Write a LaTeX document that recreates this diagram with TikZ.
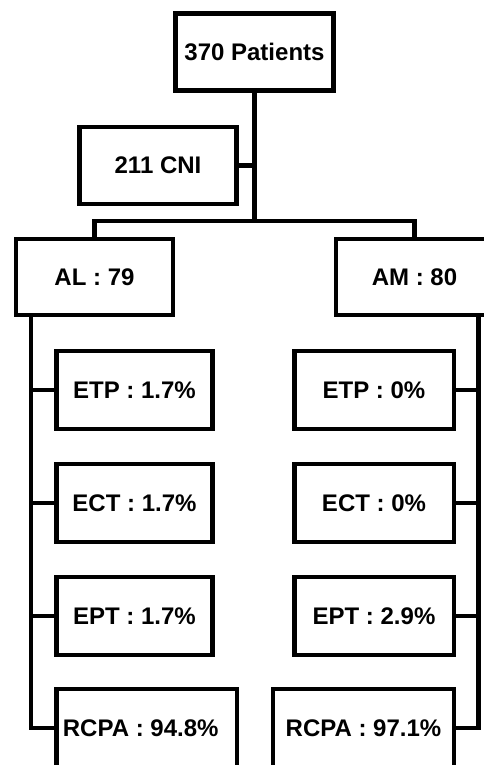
\documentclass[tikz,border=0pt]{standalone}
\usepackage{fontspec}
\setmainfont{Liberation Sans}
\begin{document}
\begin{tikzpicture}[x=1pt,y=-1pt,
  box/.style={draw=black,line width=4.5pt,inner sep=0pt,align=center,
    font=\bfseries\fontsize{24}{28}\selectfont},
  link/.style={draw=black,line width=4.5pt}]
\clip (0,0) rectangle (484,765);
\fill[white] (0,0) rectangle (484,765);
% top
\node[box,minimum width=158pt,minimum height=77pt] (pat) at (254.5,52) {370 Patients};
\node[box,minimum width=157pt,minimum height=77pt] (cni) at (158,165.5) {211 CNI};
\node[box,minimum width=157pt,minimum height=76pt] (al) at (94.5,277) {AL : 79};
\node[box,minimum width=157pt,minimum height=76pt] (am) at (414.5,277) {AM : 80};
% left column
\node[box,minimum width=156pt,minimum height=78pt] (etpL) at (134.5,390) {ETP : 1.7\%};
\node[box,minimum width=156pt,minimum height=78pt] (ectL) at (134.5,503) {ECT : 1.7\%};
\node[box,minimum width=156pt,minimum height=78pt] (eptL) at (134.5,616) {EPT : 1.7\%};
\node[box,minimum width=180.5pt,minimum height=78pt] (rcpaL) at (146.7,728) {\hspace*{-12pt}RCPA : 94.8\%};
% right column
\node[box,minimum width=159.5pt,minimum height=78pt] (etpR) at (374,390) {ETP : 0\%};
\node[box,minimum width=159.5pt,minimum height=78pt] (ectR) at (374,503) {ECT : 0\%};
\node[box,minimum width=159.5pt,minimum height=78pt] (eptR) at (374,616) {EPT : 2.9\%};
\node[box,minimum width=181pt,minimum height=78pt] (rcpaR) at (363.5,728) {RCPA : 97.1\%};
% connectors
\coordinate (j) at (254.5,221);
\coordinate (sL) at (31,315);
\coordinate (sR) at (478.5,315);
\draw[link] (pat.south) -- (j);
\draw[link] (cni.east) -- (cni.east -| j);
\draw[link] (al.north) |- (j) -| (am.north);
\draw[link] (sL) |- (rcpaL.west);
\draw[link] (etpL.west) -- (etpL.west -| sL);
\draw[link] (ectL.west) -- (ectL.west -| sL);
\draw[link] (eptL.west) -- (eptL.west -| sL);
\draw[link] (sR) |- (rcpaR.east);
\draw[link] (etpR.east) -- (etpR.east -| sR);
\draw[link] (ectR.east) -- (ectR.east -| sR);
\draw[link] (eptR.east) -- (eptR.east -| sR);
\end{tikzpicture}
\end{document}
